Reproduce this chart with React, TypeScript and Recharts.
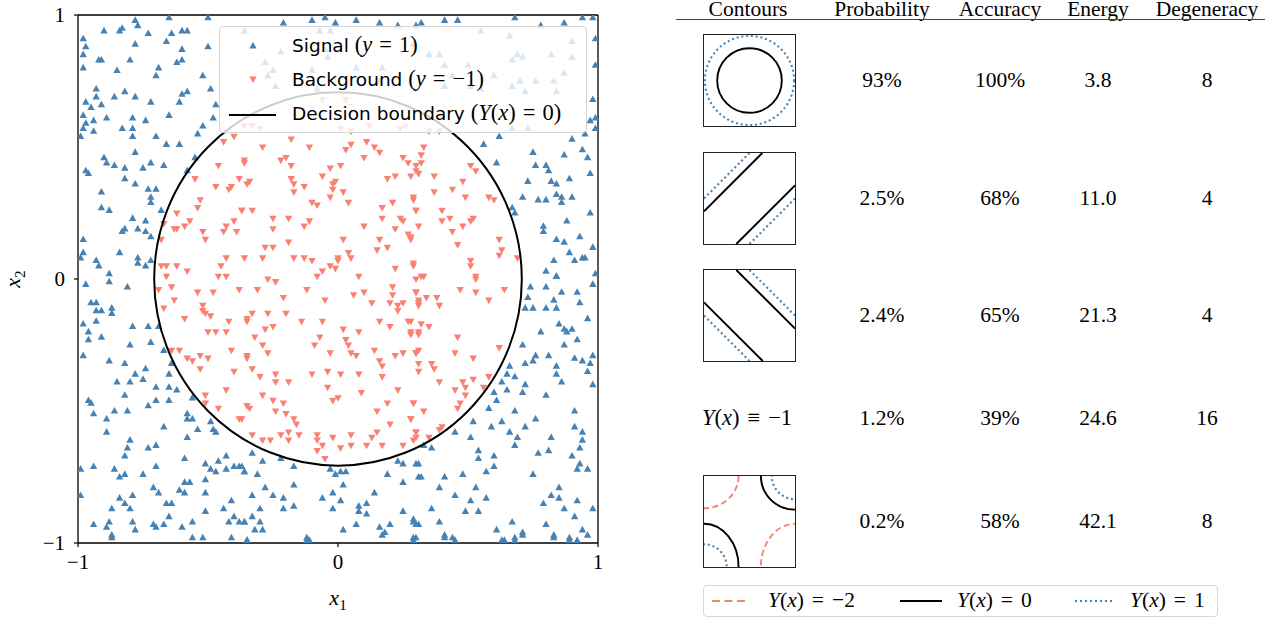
import React from "react"
import {
  ComposedChart,
  ReferenceArea,
  ReferenceLine,
  Scatter,
  ScatterChart,
  XAxis,
  YAxis,
} from "recharts"

// signal points (y = 1)
const signalPoints: [number, number][] = [
  [-0.78, 0.98], [-0.77, 0.96], [-0.65, 0.99], [-0.5, 0.99], [-0.9, 0.94], [-0.84, 0.94], [-0.83, 0.95], [-0.73, 0.93],
  [-0.64, 0.93], [-0.6, 0.94], [-0.58, 0.94], [-0.98, 0.91], [-0.97, 0.88], [-0.78, 0.89], [-0.66, 0.9], [-0.5, 0.88],
  [-0.6, 0.87], [-0.98, 0.85], [-0.92, 0.83], [-0.91, 0.83], [-0.8, 0.83], [-0.6, 0.83], [-0.62, 0.82], [-0.98, 0.8],
  [-0.69, 0.8], [-0.7, 0.77], [-0.85, 0.79], [-0.52, 0.77], [-0.93, 0.72], [-0.93, 0.69], [-0.97, 0.67], [-0.95, 0.65],
  [-0.91, 0.66], [-0.86, 0.69], [-0.82, 0.71], [-0.78, 0.69], [-0.72, 0.67], [-0.6, 0.7], [-0.58, 0.71], [-0.61, 0.67],
  [-0.49, 0.72], [-0.47, 0.66], [-0.98, 0.62], [-0.97, 0.59], [-0.98, 0.57], [-0.99, 0.54], [-0.94, 0.6], [-0.94, 0.56],
  [-0.89, 0.61], [-0.79, 0.61], [-0.79, 0.57], [-0.83, 0.57], [-0.74, 0.6], [-0.65, 0.62], [-0.79, 0.54], [-0.7, 0.54],
  [-0.66, 0.51], [-0.61, 0.51], [-0.54, 0.55], [-0.52, 0.58], [-0.48, 0.61], [-0.9, 0.46], [-0.89, 0.44], [-0.86, 0.43],
  [-0.97, 0.41], [-0.96, 0.4], [-0.82, 0.42], [-0.82, 0.38], [-0.78, 0.48], [-0.75, 0.42], [-0.72, 0.44], [-0.67, 0.43],
  [-0.55, 0.46], [-0.58, 0.41], [-0.91, 0.33], [-0.78, 0.36], [-0.73, 0.34], [-0.7, 0.34], [-0.72, 0.31], [-0.72, 0.29],
  [-0.91, 0.27], [-0.88, 0.26], [-0.68, 0.26], [-0.79, 0.23], [-0.74, 0.22], [-0.82, 0.19], [-0.83, 0.18], [-0.77, 0.19],
  [-0.74, 0.18], [-0.72, 0.16], [-0.98, 0.15], [-0.98, 0.1], [-0.99, 0.08], [-0.93, 0.07], [-0.92, 0.05], [-0.84, 0.1],
  [-0.77, 0.08], [-0.77, 0.06], [-0.74, 0.05], [-0.88, 0.02], [-0.72, 0.07],
  [-0.21, 0.97], [-0.1, 0.98], [-0.05, 0.99], [-0.01, 0.97], [0.07, 0.98], [0.16, 0.97], [0.23, 0.96],
  [-0.36, 0.94], [-0.22, 0.86], [-0.28, 0.82], [-0.25, 0.79], [-0.24, 0.73], [-0.27, 0.77], [-0.07, 0.94], [-0.03, 0.94],
  [-0.05, 0.87], [-0.04, 0.84], [-0.1, 0.79], [-0.08, 0.72], [0.07, 0.8], [0.17, 0.8], [0.16, 0.75], [0.3, 0.96], [0.29, 0.89],
  [0.32, 0.97], [0.41, 0.98], [0.46, 0.98], [0.68, 0.99], [0.78, 0.96], [0.87, 0.97], [0.94, 0.99], [0.98, 0.99],
  [0.99, 0.91], [0.99, 0.81], [0.98, 0.68], [0.99, 0.61], [0.97, 0.6], [0.99, 0.57], [0.9, 0.53], [0.94, 0.49],
  [0.96, 0.46], [0.95, 0.55], [0.87, 0.47], [0.75, 0.48], [0.76, 0.43], [0.8, 0.43], [0.81, 0.41], [0.62, 0.54],
  [0.56, 0.51], [0.61, 0.44], [0.73, 0.37], [0.82, 0.37], [0.84, 0.36], [0.89, 0.38], [0.97, 0.4], [0.84, 0.32],
  [0.86, 0.31], [0.9, 0.31], [0.86, 0.29], [0.71, 0.31], [0.77, 0.3], [0.8, 0.3], [0.67, 0.27], [0.68, 0.25],
  [0.79, 0.2], [0.79, 0.18], [0.88, 0.22], [0.97, 0.25], [0.84, 0.15], [0.87, 0.14], [0.93, 0.16], [0.98, 0.12],
  [0.89, 0.1], [0.94, 0.08], [0.95, 0.08], [0.91, 0.07], [0.83, 0.07], [0.8, 0.03], [0.84, 0.01], [0.99, 0.02],
  [0.35, 0.85], [0.39, 0.85], [0.41, 0.81], [0.44, 0.77], [0.5, 0.81], [0.55, 0.94], [0.66, 0.92], [0.69, 0.85],
  [0.67, 0.83], [0.71, 0.84], [0.7, 0.75], [0.76, 0.75], [0.82, 0.85], [0.83, 0.75], [0.9, 0.9], [0.9, 0.84],
  [0.87, 0.78], [0.84, 0.71], [0.72, 0.71], [0.67, 0.73], [0.73, 0.57], [0.67, 0.57], [0.6, 0.77], [0.51, 0.73],
  [0.55, 0.72], [0.41, 0.73],
  [-0.97, -0.02], [-0.88, -0.01], [-0.81, -0.03], [-0.95, -0.09], [-0.93, -0.09], [-0.93, -0.12], [-0.91, -0.12],
  [-0.87, -0.11], [-0.87, -0.13], [-0.98, -0.17], [-0.93, -0.16], [-0.96, -0.2], [-0.96, -0.23], [-0.91, -0.22],
  [-0.79, -0.18], [-0.73, -0.18], [-0.69, -0.18], [-0.8, -0.25], [-0.72, -0.24], [-0.67, -0.27], [-0.98, -0.29],
  [-0.88, -0.31], [-0.82, -0.32], [-0.74, -0.34], [-0.78, -0.36], [-0.75, -0.38], [-0.85, -0.39], [-0.8, -0.39],
  [-0.64, -0.32], [-0.65, -0.36], [-0.7, -0.41], [-0.65, -0.41], [-0.62, -0.42], [-0.82, -0.44], [-0.96, -0.46],
  [-0.95, -0.47], [-0.94, -0.51], [-0.86, -0.5], [-0.81, -0.5], [-0.73, -0.48], [-0.7, -0.46], [-0.65, -0.46],
  [-0.56, -0.45], [-0.58, -0.51], [-0.58, -0.53], [-0.56, -0.53], [-0.54, -0.57], [-0.49, -0.54], [-0.48, -0.57],
  [-0.47, -0.58], [-0.89, -0.53], [-0.89, -0.58], [-0.67, -0.56], [-0.58, -0.6], [-0.8, -0.61], [-0.81, -0.64],
  [-0.82, -0.67], [-0.73, -0.64], [-0.7, -0.63], [-0.59, -0.68], [-0.46, -0.69], [-0.43, -0.67], [-0.99, -0.72],
  [-0.94, -0.71], [-0.86, -0.72], [-0.84, -0.75], [-0.82, -0.74], [-0.75, -0.74], [-0.7, -0.71], [-0.51, -0.7],
  [-0.49, -0.72], [-0.47, -0.73], [-0.43, -0.72], [-0.4, -0.71], [-0.38, -0.71], [-0.36, -0.73], [-0.59, -0.77],
  [-0.57, -0.77], [-0.51, -0.76], [-0.71, -0.79], [-0.69, -0.81], [-0.61, -0.8], [-0.59, -0.81], [-0.51, -0.81],
  [-0.99, -0.82], [-0.84, -0.83], [-0.82, -0.85], [-0.79, -0.82], [-0.8, -0.87], [-0.87, -0.87], [-0.66, -0.85],
  [-0.64, -0.85], [-0.51, -0.88], [-0.44, -0.87], [-0.41, -0.84], [-0.94, -0.93], [-0.88, -0.92], [-0.89, -0.94],
  [-0.87, -0.97], [-0.79, -0.92], [-0.78, -0.95], [-0.71, -0.93], [-0.7, -0.94], [-0.67, -0.93], [-0.65, -0.9],
  [-0.6, -0.94], [-0.56, -0.92], [-0.56, -0.98], [-0.52, -0.98], [-0.42, -0.92], [-0.4, -0.9], [-0.38, -0.92],
  [-0.36, -0.92], [-0.41, -0.98], [-0.87, -0.98], [-0.35, -0.99], [-0.12, -0.99], [-0.11, -0.99], [0.17, -0.97],
  [0.29, -0.99], [0.41, -0.98], [0.45, -0.99], [0.63, -0.99], [0.68, -0.99], [0.71, -0.97], [0.83, -0.98],
  [0.89, -0.99], [0.92, -0.99], [0.96, -0.97],
  [-0.33, -0.66], [-0.29, -0.69], [-0.22, -0.68], [-0.37, -0.71], [-0.36, -0.73], [-0.31, -0.74], [-0.17, -0.71],
  [-0.28, -0.79], [-0.17, -0.78], [-0.03, -0.72], [0.01, -0.73], [0.03, -0.73], [-0.01, -0.74], [0.02, -0.78],
  [-0.33, -0.82], [-0.25, -0.82], [-0.21, -0.83], [-0.3, -0.87], [-0.21, -0.87], [-0.17, -0.86], [-0.06, -0.83],
  [-0.02, -0.81], [0.01, -0.84], [-0.02, -0.87], [0.14, -0.81], [0.08, -0.86], [0.11, -0.85], [0.08, -0.88],
  [0.11, -0.89], [0.25, -0.77], [0.19, -0.74], [0.23, -0.69], [0.25, -0.7], [0.3, -0.7], [0.31, -0.75], [0.25, -0.88],
  [-0.36, -0.92], [-0.33, -0.9], [-0.3, -0.92], [-0.32, -0.95], [-0.29, -0.95], [0.02, -0.95], [0.07, -0.93],
  [0.16, -0.94], [0.18, -0.96], [0.2, -0.93], [0.29, -0.91], [0.3, -0.93], [-0.12, -0.98], [0.29, -0.98], [-0.35, -0.99],
  [0.74, -0.03], [0.8, -0.03], [0.84, 0.01], [0.86, -0.05], [0.92, -0.05], [0.98, -0.02], [0.73, -0.07], [0.83, -0.08],
  [0.93, -0.09], [0.72, -0.11], [0.75, -0.11], [0.8, -0.11], [0.84, -0.11], [0.96, -0.15], [0.85, -0.17], [0.87, -0.19],
  [0.88, -0.2], [0.9, -0.19], [0.78, -0.2], [0.92, -0.23], [0.87, -0.25], [0.71, -0.25], [0.76, -0.29], [0.81, -0.29],
  [0.75, -0.31], [0.72, -0.32], [0.66, -0.33], [0.84, -0.33], [0.91, -0.3], [0.94, -0.31], [0.97, -0.32], [0.98, -0.29],
  [0.96, -0.35], [0.84, -0.36], [0.65, -0.36], [0.63, -0.39], [0.68, -0.37], [0.72, -0.4], [0.86, -0.39], [0.98, -0.4],
  [0.65, -0.42], [0.71, -0.43], [0.6, -0.43], [0.61, -0.46], [0.8, -0.44], [0.58, -0.49], [0.68, -0.5], [0.91, -0.5],
  [0.52, -0.54], [0.63, -0.54], [0.76, -0.53], [0.72, -0.56], [0.59, -0.56], [0.91, -0.56], [0.66, -0.58], [0.69, -0.6],
  [0.94, -0.58], [0.51, -0.6], [0.45, -0.58], [0.36, -0.64], [0.33, -0.63], [0.82, -0.6], [0.94, -0.61], [0.68, -0.63],
  [0.54, -0.65], [0.54, -0.68], [0.6, -0.67], [0.6, -0.71], [0.57, -0.73], [0.77, -0.66], [0.81, -0.65], [0.9, -0.67],
  [0.93, -0.64], [0.93, -0.7], [0.92, -0.72], [0.96, -0.72], [0.31, -0.7], [0.32, -0.75], [0.41, -0.75], [0.48, -0.74],
  [0.75, -0.74], [0.39, -0.79], [0.45, -0.82], [0.53, -0.79], [0.51, -0.84], [0.57, -0.83], [0.49, -0.88], [0.54, -0.88],
  [0.85, -0.79], [0.82, -0.82], [0.79, -0.85], [0.85, -0.83], [0.92, -0.84], [0.87, -0.87], [0.91, -0.9], [0.98, -0.87],
  [0.36, -0.87], [0.39, -0.92], [0.29, -0.92], [0.31, -0.93], [0.67, -0.92], [0.61, -0.95], [0.71, -0.96], [0.8, -0.93],
  [0.83, -0.97], [0.94, -0.95], [0.41, -0.97], [0.44, -0.98], [0.64, -0.99], [0.68, -0.98], [0.89, -0.98], [0.3, -0.98],
]

// background points (y = -1)
const backgroundPoints: [number, number][] = [
  [-0.44, 0.52], [-0.4, 0.54], [-0.46, 0.43], [-0.36, 0.45], [-0.55, 0.38], [-0.47, 0.35], [-0.42, 0.34], [-0.41, 0.35],
  [-0.38, 0.38], [-0.35, 0.36], [-0.54, 0.27], [-0.53, 0.3], [-0.62, 0.25], [-0.57, 0.22], [-0.52, 0.18], [-0.51, 0.15],
  [-0.43, 0.2], [-0.44, 0.18], [-0.39, 0.18], [-0.4, 0.22], [-0.37, 0.26], [-0.67, 0.21], [-0.63, 0.19], [-0.62, 0.19],
  [-0.59, 0.2], [-0.68, 0.15], [-0.68, 0.05], [-0.66, 0.05], [-0.62, 0.05], [-0.66, 0.01], [-0.58, 0.03], [-0.45, 0.05],
  [-0.43, 0.08], [-0.36, 0.08], [-0.46, 0.01], [-0.43, 0.01],
  [-0.06, 0.68], [0.03, 0.68], [0.01, 0.57], [0.05, 0.56], [0.12, 0.58], [0.24, 0.57], [0.26, 0.58], [-0.33, 0.58],
  [-0.3, 0.57], [-0.36, 0.58],
  [-0.29, 0.5], [-0.18, 0.53], [-0.11, 0.5], [0.05, 0.51], [0.03, 0.49], [0.11, 0.52], [0.14, 0.5], [0.16, 0.48],
  [0.1, 0.46], [-0.36, 0.44], [-0.22, 0.45], [-0.2, 0.46], [-0.18, 0.43], [-0.03, 0.42], [0.01, 0.43], [0.25, 0.46],
  [0.27, 0.44], [0.3, 0.41], [-0.34, 0.37], [-0.18, 0.38], [-0.17, 0.36], [-0.13, 0.35], [-0.06, 0.39], [-0.02, 0.36],
  [-0.01, 0.37], [-0.02, 0.34], [-0.17, 0.33], [0.02, 0.33], [0.19, 0.38], [0.22, 0.39], [0.28, 0.39], [-0.1, 0.29],
  [-0.08, 0.28], [-0.03, 0.31], [0.04, 0.29], [0.17, 0.27], [0.21, 0.29], [0.29, 0.31], [0.3, 0.26], [-0.37, 0.26],
  [-0.33, 0.26], [-0.25, 0.23], [-0.19, 0.23], [-0.11, 0.22], [-0.13, 0.2], [-0.25, 0.19], [0.1, 0.2], [0.17, 0.23],
  [0.24, 0.23], [0.25, 0.22], [0.02, 0.15], [0.16, 0.15], [0.22, 0.19], [0.27, 0.17], [0.28, 0.16], [-0.19, 0.14],
  [-0.25, 0.12], [-0.28, 0.12], [-0.29, 0.08], [-0.17, 0.08], [-0.13, 0.08], [-0.1, 0.07], [0.0, 0.08], [0.0, 0.07],
  [0.04, 0.1], [0.05, 0.08], [0.15, 0.11], [0.19, 0.12], [-0.03, 0.05], [-0.01, 0.04], [-0.06, 0.03], [0.22, 0.04],
  [0.29, 0.05], [0.08, 0.01],
  [0.35, 0.56], [0.39, 0.56], [0.33, 0.5], [0.32, 0.47], [0.32, 0.44], [0.3, 0.43], [0.31, 0.4], [0.37, 0.39],
  [0.51, 0.43], [0.53, 0.41], [0.48, 0.37], [0.44, 0.34], [0.49, 0.31], [0.37, 0.33], [0.58, 0.31], [0.6, 0.3],
  [0.29, 0.3], [0.3, 0.26], [0.4, 0.26], [0.4, 0.22], [0.43, 0.23], [0.31, 0.2], [0.44, 0.18], [0.48, 0.2],
  [0.51, 0.22], [0.52, 0.23], [0.62, 0.15], [0.63, 0.11], [0.62, 0.09], [0.69, 0.08], [0.46, 0.13], [0.51, 0.07],
  [0.51, 0.05], [0.28, 0.15], [0.29, 0.06], [0.32, 0.01], [0.53, 0.01],
  [-0.64, -0.03], [-0.69, -0.04], [-0.54, -0.05], [-0.48, -0.05], [-0.38, -0.04], [-0.67, -0.11], [-0.63, -0.08],
  [-0.59, -0.15], [-0.52, -0.1], [-0.52, -0.12], [-0.51, -0.13], [-0.49, -0.14], [-0.42, -0.16], [-0.35, -0.15],
  [-0.5, -0.2], [-0.47, -0.2], [-0.43, -0.2], [-0.64, -0.27], [-0.61, -0.27], [-0.58, -0.3], [-0.56, -0.31],
  [-0.53, -0.29], [-0.5, -0.3], [-0.53, -0.34], [-0.41, -0.27], [-0.4, -0.35], [-0.35, -0.3], [-0.43, -0.42],
  [-0.51, -0.44], [-0.51, -0.47], [-0.46, -0.49], [-0.38, -0.53], [-0.35, -0.48],
  [-0.27, 0.0], [-0.24, -0.01], [-0.31, -0.04], [-0.21, -0.07], [-0.12, -0.04], [-0.08, 0.01], [-0.05, -0.08],
  [0.06, -0.06], [0.1, -0.05], [0.13, -0.09], [0.21, -0.03], [0.21, -0.06], [0.2, -0.09], [0.23, -0.1], [0.25, -0.09],
  [0.23, -0.12], [0.3, 0.0], [0.3, -0.05], [0.31, -0.09], [-0.35, -0.16], [-0.33, -0.13], [-0.27, -0.13], [-0.2, -0.13],
  [-0.28, -0.19], [-0.25, -0.18], [-0.14, -0.16], [-0.06, -0.16], [-0.32, -0.22], [-0.29, -0.25], [-0.27, -0.28],
  [-0.35, -0.29], [-0.33, -0.34], [-0.07, -0.22], [-0.09, -0.25], [-0.03, -0.28], [0.02, -0.19], [0.03, -0.23],
  [0.04, -0.25], [0.08, -0.2], [0.05, -0.28], [0.07, -0.29], [0.14, -0.27], [0.16, -0.31], [0.17, -0.33], [0.16, -0.16],
  [0.2, -0.18], [0.27, -0.16], [0.28, -0.2], [0.31, -0.2], [0.22, -0.29], [0.25, -0.28], [0.3, -0.28], [0.31, -0.32],
  [-0.1, -0.36], [-0.04, -0.35], [0.01, -0.36], [0.08, -0.36], [0.17, -0.37], [-0.3, -0.37], [-0.24, -0.36],
  [-0.24, -0.39], [-0.19, -0.39], [-0.04, -0.41], [0.09, -0.43], [0.23, -0.42], [-0.29, -0.44], [-0.25, -0.46],
  [-0.21, -0.47], [-0.24, -0.5], [-0.34, -0.49], [-0.02, -0.46], [0.0, -0.45], [0.19, -0.47], [0.29, -0.47],
  [0.15, -0.5], [-0.2, -0.51], [-0.17, -0.53], [-0.16, -0.55], [-0.37, -0.53], [0.28, -0.53], [0.2, -0.55],
  [-0.33, -0.59], [-0.29, -0.61], [-0.26, -0.61], [-0.22, -0.59], [-0.19, -0.58], [-0.19, -0.61], [-0.15, -0.59],
  [-0.08, -0.59], [-0.08, -0.61], [-0.06, -0.63], [-0.08, -0.65], [-0.05, -0.68], [-0.02, -0.6], [0.01, -0.64],
  [0.05, -0.59], [0.05, -0.63], [0.13, -0.6], [0.15, -0.58], [0.11, -0.63], [0.17, -0.63], [0.25, -0.63],
  [0.29, -0.61], [0.3, -0.58],
  [0.33, 0.01], [0.3, -0.05], [0.31, -0.08], [0.31, -0.1], [0.34, -0.07], [0.38, -0.07], [0.39, -0.1], [0.47, -0.04],
  [0.53, -0.05], [0.53, 0.0], [0.58, -0.08], [0.64, -0.04], [0.28, -0.16], [0.28, -0.21], [0.31, -0.21], [0.32, -0.17],
  [0.35, -0.18], [0.46, -0.22], [0.62, -0.26], [0.45, -0.28], [0.52, -0.3], [0.3, -0.28], [0.31, -0.27], [0.36, -0.32],
  [0.37, -0.34], [0.31, -0.35], [0.39, -0.39], [0.52, -0.38], [0.48, -0.39], [0.49, -0.41], [0.58, -0.37], [0.56, -0.41],
  [0.45, -0.42], [0.49, -0.44], [0.29, -0.47], [0.33, -0.5], [0.47, -0.47], [0.46, -0.49], [0.28, -0.53], [0.3, -0.58],
  [0.3, -0.6], [0.35, -0.6], [0.39, -0.57], [0.4, -0.56],
]

const boundaryRadius = 0.707
const axisTicks = [-1, 0, 1]

// table columns
const probabilities = ["93%", "2.5%", "2.4%", "1.2%", "0.2%"]
const accuracies = ["100%", "68%", "65%", "39%", "58%"]
const energies = ["3.8", "11.0", "21.3", "24.6", "42.1"]
const degeneracies = ["8", "4", "4", "16", "8"]

// contour icons: level, ellipse centre + radii (data units) or straight segments
type Ring = { level: number; cx: number; cy: number; rx: number; ry: number }
type Segment = { level: number; from: [number, number]; to: [number, number] }

const circleRings: Ring[] = [
  { level: 0, cx: 0, cy: 0, rx: 0.71, ry: 0.71 },
  { level: 1, cx: 0, cy: 0, rx: 0.98, ry: 0.98 },
]
const risingSegments: Segment[] = [
  { level: 0, from: [-1, -0.28], to: [0.28, 1] },
  { level: 0, from: [-0.29, -1], to: [1, 0.29] },
  { level: 1, from: [-1, 0.0], to: [0.0, 1] },
  { level: 1, from: [0.0, -1], to: [1, 0.0] },
]
const fallingSegments: Segment[] = [
  { level: 0, from: [-0.29, 1], to: [1, -0.29] },
  { level: 0, from: [-1, 0.29], to: [0.29, -1] },
  { level: 1, from: [0.0, 1], to: [1, 0.0] },
  { level: 1, from: [-1, 0.0], to: [0.0, -1] },
]
const cornerRings: Ring[] = [
  { level: 0, cx: 1, cy: 1, rx: 0.75, ry: 0.74 },
  { level: 0, cx: -1, cy: -1, rx: 0.76, ry: 0.95 },
  { level: -2, cx: -1, cy: 1, rx: 0.76, ry: 0.71 },
  { level: -2, cx: 1, cy: -1, rx: 0.75, ry: 0.95 },
  { level: 1, cx: 1, cy: 1, rx: 0.51, ry: 0.51 },
  { level: 1, cx: -1, cy: -1, rx: 0.5, ry: 0.5 },
]

const BLUE = "#4682b4"
const SALMON = "#fa8072"
const SERIF = "'Liberation Serif', 'DejaVu Serif', serif"
const SANS = "'DejaVu Sans', sans-serif"

const levelStyle = (level: number) => {
  if (level === -2) return { stroke: SALMON, strokeWidth: 1.9, strokeDasharray: "6 3.5" }
  if (level === 1) return { stroke: BLUE, strokeWidth: 2.1, strokeDasharray: "2 2.8" }
  return { stroke: "#000", strokeWidth: 1.9 }
}

const minus = (v: number) => (v < 0 ? `\u2212${Math.abs(v)}` : `${v}`)

const TriangleUp = (props: any) => {
  const { cx, cy } = props
  return <path d={`M${cx},${cy - 4} L${cx + 3.7},${cy + 2.6} L${cx - 3.7},${cy + 2.6} Z`} fill={BLUE} />
}
const TriangleDown = (props: any) => {
  const { cx, cy } = props
  return <path d={`M${cx},${cy + 4} L${cx + 3.7},${cy - 2.6} L${cx - 3.7},${cy - 2.6} Z`} fill={SALMON} />
}

const ellipseShape = (style: any) => (props: any) => {
  const { x, y, width, height } = props
  return (
    <ellipse
      cx={x + width / 2}
      cy={y + height / 2}
      rx={Math.abs(width) / 2}
      ry={Math.abs(height) / 2}
      fill="none"
      {...style}
    />
  )
}

const I = ({ children }: { children: React.ReactNode }) => <i style={{ fontFamily: SERIF }}>{children}</i>
const Rel = ({ children, gap = 8 }: { children: React.ReactNode; gap?: number }) => (
  <span style={{ display: "inline-block", margin: `0 ${gap}px` }}>{children}</span>
)
const MathText = ({ children, size }: { children: React.ReactNode; size: number }) => (
  <span style={{ fontFamily: SERIF, fontSize: size }}>{children}</span>
)

function ContourIcon({ left, top, rings = [], segments = [] }: { left: number; top: number; rings?: Ring[]; segments?: Segment[] }) {
  return (
    <div style={{ position: "absolute", left, top, width: 91, height: 91, border: "1.3px solid #222" }}>
      <ComposedChart width={91} height={91} margin={{ top: 0, right: 0, bottom: 0, left: 0 }}>
        <XAxis type="number" dataKey="x" domain={[-1, 1]} hide allowDataOverflow />
        <YAxis type="number" dataKey="y" domain={[-1, 1]} hide allowDataOverflow />
        {rings.map((r, i) => (
          <ReferenceArea
            key={`r${i}`}
            x1={r.cx - r.rx}
            x2={r.cx + r.rx}
            y1={r.cy - r.ry}
            y2={r.cy + r.ry}
            ifOverflow="hidden"
            shape={ellipseShape(levelStyle(r.level))}
          />
        ))}
        {segments.map((s, i) => (
          <ReferenceLine
            key={`s${i}`}
            segment={[{ x: s.from[0], y: s.from[1] }, { x: s.to[0], y: s.to[1] }]}
            ifOverflow="hidden"
            {...levelStyle(s.level)}
          />
        ))}
      </ComposedChart>
    </div>
  )
}

const signalData = signalPoints.map(([x, y]) => ({ x, y }))
const backgroundData = backgroundPoints.map(([x, y]) => ({ x, y }))

const cellText: React.CSSProperties = {
  position: "absolute",
  fontFamily: SERIF,
  fontSize: 21.5,
  lineHeight: "22px",
  color: "#000",
  transform: "translate(-50%, -50%)",
  whiteSpace: "nowrap",
}

const columns = [
  { title: "Contours", x: 748 },
  { title: "Probability", x: 882, values: probabilities },
  { title: "Accuracy", x: 1000, values: accuracies },
  { title: "Energy", x: 1098, values: energies },
  { title: "Degeneracy", x: 1207, values: degeneracies },
]
const rowCenters = [80, 198, 315, 418, 521]

export default function App() {
  return (
    <div style={{ position: "absolute", left: 0, top: 0, width: 1277, height: 619, background: "#fff", overflow: "hidden" }}>
      <div style={{ position: "absolute", left: 0, top: 0 }}>
        <ScatterChart width={620} height={619} margin={{ top: 15, right: 22, bottom: 16, left: 38 }}>
          <XAxis
            type="number"
            dataKey="x"
            domain={[-1, 1]}
            ticks={axisTicks}
            allowDataOverflow
            height={60}
            tickSize={4}
            tickMargin={7}
            tickFormatter={minus}
            stroke="#000"
            axisLine={{ stroke: "#000", strokeWidth: 1.3 }}
            tickLine={{ stroke: "#000", strokeWidth: 1.2 }}
            tick={{ fill: "#000", fontSize: 21, fontFamily: SERIF }}
            label={{
              content: () => (
                <text x={338} y={605} textAnchor="middle" fontFamily={SERIF} fontSize={22} fontStyle="italic">
                  x<tspan dy={5} fontSize={15} fontStyle="normal">1</tspan>
                </text>
              ),
            }}
          />
          <YAxis
            type="number"
            dataKey="y"
            domain={[-1, 1]}
            ticks={axisTicks}
            allowDataOverflow
            width={40}
            tickSize={4}
            tickMargin={9}
            tickFormatter={minus}
            stroke="#000"
            axisLine={{ stroke: "#000", strokeWidth: 1.3 }}
            tickLine={{ stroke: "#000", strokeWidth: 1.2 }}
            tick={{ fill: "#000", fontSize: 21, fontFamily: SERIF }}
            label={{
              content: () => (
                <text
                  x={0}
                  y={0}
                  transform="translate(20, 279) rotate(-90)"
                  textAnchor="middle"
                  fontFamily={SERIF}
                  fontSize={22}
                  fontStyle="italic"
                >
                  x<tspan dy={5} fontSize={15} fontStyle="normal">2</tspan>
                </text>
              ),
            }}
          />
          <Scatter data={signalData} shape={TriangleUp} isAnimationActive={false} />
          <Scatter data={backgroundData} shape={TriangleDown} isAnimationActive={false} />
          <ReferenceArea
            x1={-boundaryRadius}
            x2={boundaryRadius}
            y1={-boundaryRadius}
            y2={boundaryRadius}
            shape={ellipseShape({ stroke: "#000", strokeWidth: 2 })}
            {...({ zIndex: 700 } as any)}
          />
          <ReferenceLine y={1} stroke="#000" strokeWidth={1.3} />
          <ReferenceLine x={1} stroke="#000" strokeWidth={1.3} />
        </ScatterChart>
      </div>

      {/* main legend */}
      <div
        style={{
          position: "absolute",
          left: 219,
          top: 26,
          width: 368,
          height: 107,
          boxSizing: "border-box",
          background: "rgba(255,255,255,0.8)",
          border: "1px solid #d6d6d6",
          borderRadius: 4,
          fontFamily: SANS,
          fontSize: 18.5,
          color: "#000",
        }}
      >
        <svg width={60} height={107} style={{ position: "absolute", left: 0, top: 0 }}>
          <path d="M33,15 L36.7,21.6 L29.3,21.6 Z" fill={BLUE} />
          <path d="M33,56 L36.7,49.4 L29.3,49.4 Z" fill={SALMON} />
          <line x1={9} x2={56} y1={88} y2={88} stroke="#000" strokeWidth={2} />
        </svg>
        <div style={{ position: "absolute", left: 72, top: 5, whiteSpace: "nowrap" }}>
          Signal{" "}
          <MathText size={22.5}>
            (<I>y</I>
            <Rel gap={7}>=</Rel>1)
          </MathText>
        </div>
        <div style={{ position: "absolute", left: 72, top: 39, whiteSpace: "nowrap" }}>
          Background{" "}
          <MathText size={22.5}>
            (<I>y</I>
            <Rel gap={7}>=</Rel>−1)
          </MathText>
        </div>
        <div style={{ position: "absolute", left: 72, top: 73, whiteSpace: "nowrap" }}>
          Decision boundary{" "}
          <MathText size={22.5}>
            (<I>Y</I>(<I>x</I>)<Rel gap={7}>=</Rel>0)
          </MathText>
        </div>
      </div>

      {/* table header */}
      {columns.map((c) => (
        <div key={c.title} style={{ ...cellText, left: c.x, top: 8.5 }}>
          {c.title}
        </div>
      ))}
      <div style={{ position: "absolute", left: 676, top: 19, width: 589, height: 1.3, background: "#444" }} />

      {/* table body */}
      {columns.slice(1).map((c) =>
        c.values!.map((v, i) => (
          <div key={`${c.title}${i}`} style={{ ...cellText, left: c.x, top: rowCenters[i] }}>
            {v}
          </div>
        ))
      )}
      <ContourIcon left={703} top={34} rings={circleRings} />
      <ContourIcon left={703} top={152} segments={risingSegments} />
      <ContourIcon left={703} top={269} segments={fallingSegments} />
      <div style={{ ...cellText, left: 747, top: rowCenters[3], fontSize: 22.5 }}>
        <I>Y</I>(<I>x</I>)<Rel>≡</Rel>−1
      </div>
      <ContourIcon left={703} top={475} rings={cornerRings} />

      {/* contour legend */}
      <div
        style={{
          position: "absolute",
          left: 703,
          top: 585,
          width: 515,
          height: 32,
          boxSizing: "border-box",
          border: "1px solid #d6d6d6",
          borderRadius: 4,
          background: "#fff",
          fontFamily: SERIF,
          fontSize: 21.5,
        }}
      >
        <svg width={515} height={32} style={{ position: "absolute", left: -1, top: -1 }}>
          <line x1={9} x2={42} y1={16} y2={16} stroke={SALMON} strokeWidth={2} strokeDasharray="8 4.5" />
          <line x1={197} x2={239} y1={16} y2={16} stroke="#000" strokeWidth={2} />
          <line x1={372} x2={409} y1={16} y2={16} stroke={BLUE} strokeWidth={2.1} strokeDasharray="2 3" />
        </svg>
        <div style={{ position: "absolute", left: 64, top: 2, whiteSpace: "nowrap" }}>
          <I>Y</I>(<I>x</I>)<Rel>=</Rel>−2
        </div>
        <div style={{ position: "absolute", left: 253, top: 2, whiteSpace: "nowrap" }}>
          <I>Y</I>(<I>x</I>)<Rel>=</Rel>0
        </div>
        <div style={{ position: "absolute", left: 426, top: 2, whiteSpace: "nowrap" }}>
          <I>Y</I>(<I>x</I>)<Rel>=</Rel>1
        </div>
      </div>
    </div>
  )
}
